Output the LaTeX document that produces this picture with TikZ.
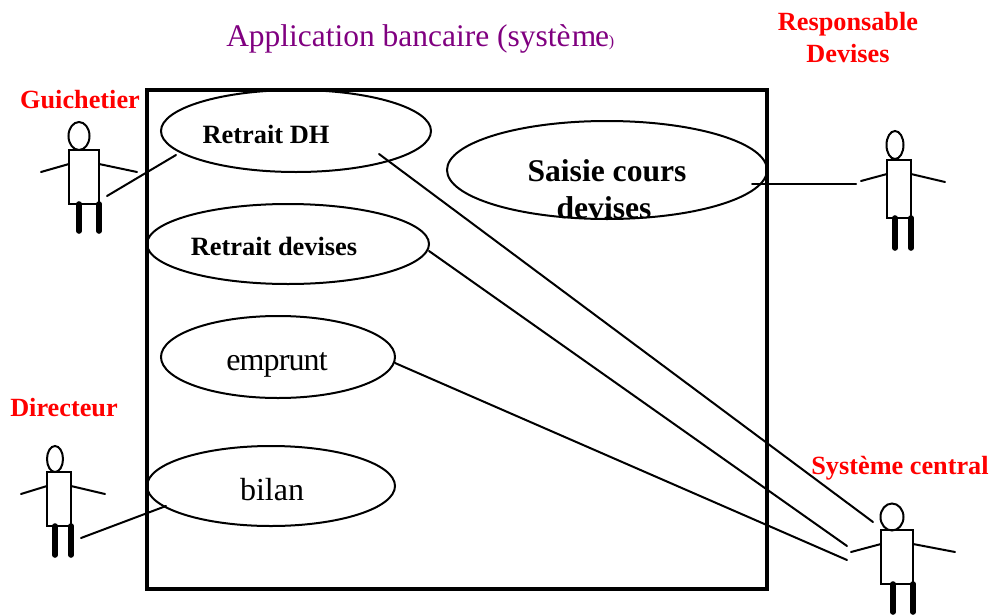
\documentclass[tikz,border=0pt]{standalone}
\usepackage{fontspec}
\setmainfont{Liberation Serif}
\usetikzlibrary{shapes.geometric}
\definecolor{titlepurple}{RGB}{128,0,128}
\tikzset{
  thin line/.style={line width=1.5pt,line cap=round},
  usecase/.style={shape=ellipse,draw=black,line width=1.5pt,inner sep=0pt,outer sep=0pt},
  head/.style={shape=ellipse,draw=black,line width=1.5pt,inner sep=0pt,outer sep=0pt},
  torso/.style={shape=rectangle,draw=black,line width=1.5pt,inner sep=0pt,outer sep=0pt},
  leg/.style={line width=4.2pt,line cap=round},
  actorname/.style={text=red,font=\fontsize{19.7}{24}\selectfont\bfseries,align=center,inner sep=0pt},
  caseB/.style={font=\fontsize{19.8}{24}\selectfont\bfseries,align=center,inner sep=0pt},
  caseN/.style={font=\fontsize{24}{24}\selectfont,align=center,inner sep=0pt,anchor=base},
  sys/.style={shape=rectangle,draw=black,line width=3pt,inner sep=0pt,outer sep=0pt,minimum width=465pt,minimum height=374.25pt},
  sz/.style 2 args={minimum width=#1*0.75pt,minimum height=#2*0.75pt}
}
\begin{document}
\begin{tikzpicture}[x=0.75pt,y=-0.75pt]
\useasboundingbox (0,0) rectangle (992,614);
% system boundary
\node[sys] (system) at (457,339.5) {};
\node[text=titlepurple,inner sep=0pt,anchor=base west,font=\fontsize{23.6}{24}\selectfont] (title) at (226,46) {Application bancaire (systè\kern1pt m\kern-1pt e{\fontsize{12}{12}\selectfont )}};
% use cases
\node[usecase,sz={270}{82}] (dh) at (296,131) {};
\node[usecase,sz={320}{98}] (saisie) at (607,170) {};
\node[usecase,sz={282}{80}] (devises) at (288,244) {};
\node[usecase,sz={234}{82}] (emprunt) at (278,357) {};
\node[usecase,sz={248}{80}] (bilan) at (271,486) {};
\node[caseB] (dhT) at (266,134) {Retrait DH};
\node[caseB,font=\fontsize{23.7}{28}\selectfont\bfseries] (saisieT) at (607,189) {Saisie cours\\devises\kern4.5pt};
\node[caseB] (devisesT) at (274,246) {Retrait devises};
\node[caseN] (empruntT) at (277,370) {\addfontfeature{LetterSpace=-2.7}emprunt};
\node[caseN] (bilanT) at (272,500) {bilan};
% actor labels
\node[actorname] (lg) at (80,100) {Guichetier};
\node[actorname] (ld) at (64,408) {Directeur};
\node[actorname] (lr) at (848,38) {Responsable\\Devises};
\node[actorname] (ls) at (900,468) {Système central};
% Guichetier
\node[head,sz={21}{28}] (h1) at (79,136) {};
\node[torso,sz={30}{54}] (b1) at (84,177) {};
\coordinate (a1a) at (41,172); \coordinate (a1b) at (137,172);
\draw[thin line] (a1a) -- (b1.west |- 0,164);
\draw[thin line] (b1.east |- 0,164) -- (a1b);
\coordinate (f1a) at (79,231); \coordinate (f1b) at (99,231);
\draw[leg] (79,204) -- (f1a);
\draw[leg] (99,204) -- (f1b);
% Directeur
\node[head,sz={16}{26}] (h2) at (55,459) {};
\node[torso,sz={24}{54}] (b2) at (59,499) {};
\coordinate (a2a) at (21,494); \coordinate (a2b) at (105,494);
\draw[thin line] (a2a) -- (b2.west |- 0,486);
\draw[thin line] (b2.east |- 0,486) -- (a2b);
\coordinate (f2a) at (55,555); \coordinate (f2b) at (71,555);
\draw[leg] (55,526) -- (f2a);
\draw[leg] (71,526) -- (f2b);
% Responsable
\node[head,sz={17}{28}] (h3) at (895,145) {};
\node[torso,sz={24}{58}] (b3) at (899,189) {};
\coordinate (a3a) at (861,181); \coordinate (a3b) at (945,182);
\draw[thin line] (a3a) -- (b3.west |- 0,174);
\draw[thin line] (b3.east |- 0,174) -- (a3b);
\coordinate (f3a) at (895,248); \coordinate (f3b) at (911,248);
\draw[leg] (895,218) -- (f3a);
\draw[leg] (911,218) -- (f3b);
% Systeme central
\node[head,sz={23}{27}] (h4) at (892,517) {};
\node[torso,sz={32}{54}] (b4) at (897,557) {};
\coordinate (a4a) at (851,552); \coordinate (a4b) at (955,552);
\draw[thin line] (a4a) -- (b4.west |- 0,544);
\draw[thin line] (b4.east |- 0,544) -- (a4b);
\coordinate (f4a) at (893,612); \coordinate (f4b) at (913,612);
\draw[leg] (893,584) -- (f4a);
\draw[leg] (913,584) -- (f4b);
% connector ends
\coordinate (c1a) at (107,196); \coordinate (c1b) at (176,155);
\coordinate (c2a) at (752,184); \coordinate (c2b) at (856,184);
\coordinate (c3a) at (379,154); \coordinate (c3b) at (873,522);
\coordinate (c4a) at (429,251); \coordinate (c4b) at (847,546);
\coordinate (c5a) at (395,363); \coordinate (c5b) at (847,560);
\coordinate (c6a) at (81,538); \coordinate (c6b) at (166,506);
\draw[thin line] (c1a) -- (c1b);
\draw[thin line] (c2a) -- (c2b);
\draw[thin line] (c3a) -- (c3b);
\draw[thin line] (c4a) -- (c4b);
\draw[thin line] (c5a) -- (c5b);
\draw[thin line] (c6a) -- (c6b);
\end{tikzpicture}
\end{document}
